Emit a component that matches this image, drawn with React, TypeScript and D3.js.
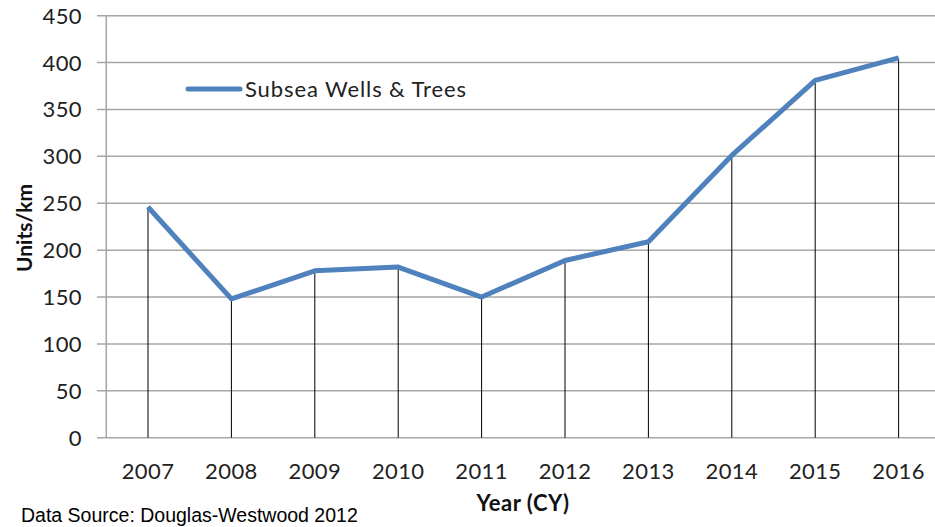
import React from "react";
import * as d3 from "d3";

const years = ["2007", "2008", "2009", "2010", "2011", "2012", "2013", "2014", "2015", "2016"];
const values = [246, 148, 178, 182, 150, 189, 209, 301, 381, 405];
const yTicks = [0, 50, 100, 150, 200, 250, 300, 350, 400, 450];
const seriesName = "Subsea Wells & Trees";

const W = 935;
const H = 527;
const left = 106.3;
const right = 940.3;
const top = 15.7;
const bottom = 437.7;

export default function App() {
  const x = d3.scaleBand<string>().domain(years).range([left, right]).paddingInner(0).paddingOuter(0);
  const y = d3.scaleLinear().domain([0, 450]).range([bottom, top]);
  const cx = (d: string) => (x(d) as number) + x.bandwidth() / 2;
  const line = d3
    .line<number>()
    .x((_, i) => cx(years[i]))
    .y((v) => y(v));
  const tickFont = "Lato, 'Open Sans', sans-serif";
  return (
    <svg
      width={W}
      height={H}
      style={{ position: "absolute", left: 0, top: 0, display: "block", background: "#fff" }}
    >
      {yTicks.map((t) => (
        <line key={"g" + t} x1={97} x2={right} y1={y(t)} y2={y(t)} stroke="#a6a6a6" strokeWidth={1.5} />
      ))}
      <line x1={left} x2={left} y1={top} y2={bottom} stroke="#a6a6a6" strokeWidth={1.5} />
      {yTicks.map((t) => (
        <text
          key={"t" + t}
          x={82}
          y={y(t)}
          dy="0.36em"
          textAnchor="end"
          fontFamily={tickFont}
          fontSize={22}
          letterSpacing={0.4}
          fill="#222"
        >
          {t}
        </text>
      ))}
      {years.map((yr) => (
        <text
          key={"x" + yr}
          x={cx(yr)}
          y={479}
          textAnchor="middle"
          fontFamily={tickFont}
          fontSize={22}
          letterSpacing={0.4}
          fill="#222"
        >
          {yr}
        </text>
      ))}
      {years.map((yr, i) => (
        <line key={"d" + yr} x1={cx(yr)} x2={cx(yr)} y1={y(values[i])} y2={bottom} stroke="#000" strokeWidth={1} />
      ))}
      <path d={line(values) || ""} fill="none" stroke="#4f81bd" strokeWidth={5} strokeLinejoin="round" />
      <line x1={188} x2={240} y1={89} y2={89} stroke="#4f81bd" strokeWidth={5} strokeLinecap="round" />
      <text x={245} y={97} fontFamily={tickFont} fontSize={22} letterSpacing={0.9} fill="#222">
        {seriesName}
      </text>
      <text
        transform="translate(32,228) rotate(-90)"
        textAnchor="middle"
        fontFamily={tickFont}
        fontWeight="bold"
        fontSize={21}
        fill="#111"
      >
        Units/km
      </text>
      <text
        x={523}
        y={511}
        textAnchor="middle"
        fontFamily={tickFont}
        fontWeight="bold"
        fontSize={22}
        letterSpacing={0.5}
        fill="#111"
      >
        Year (CY)
      </text>
      <text x={21} y={522} fontFamily="'Liberation Sans', Arial, sans-serif" fontSize={19.5} fill="#000">
        Data Source: Douglas-Westwood 2012
      </text>
    </svg>
  );
}
